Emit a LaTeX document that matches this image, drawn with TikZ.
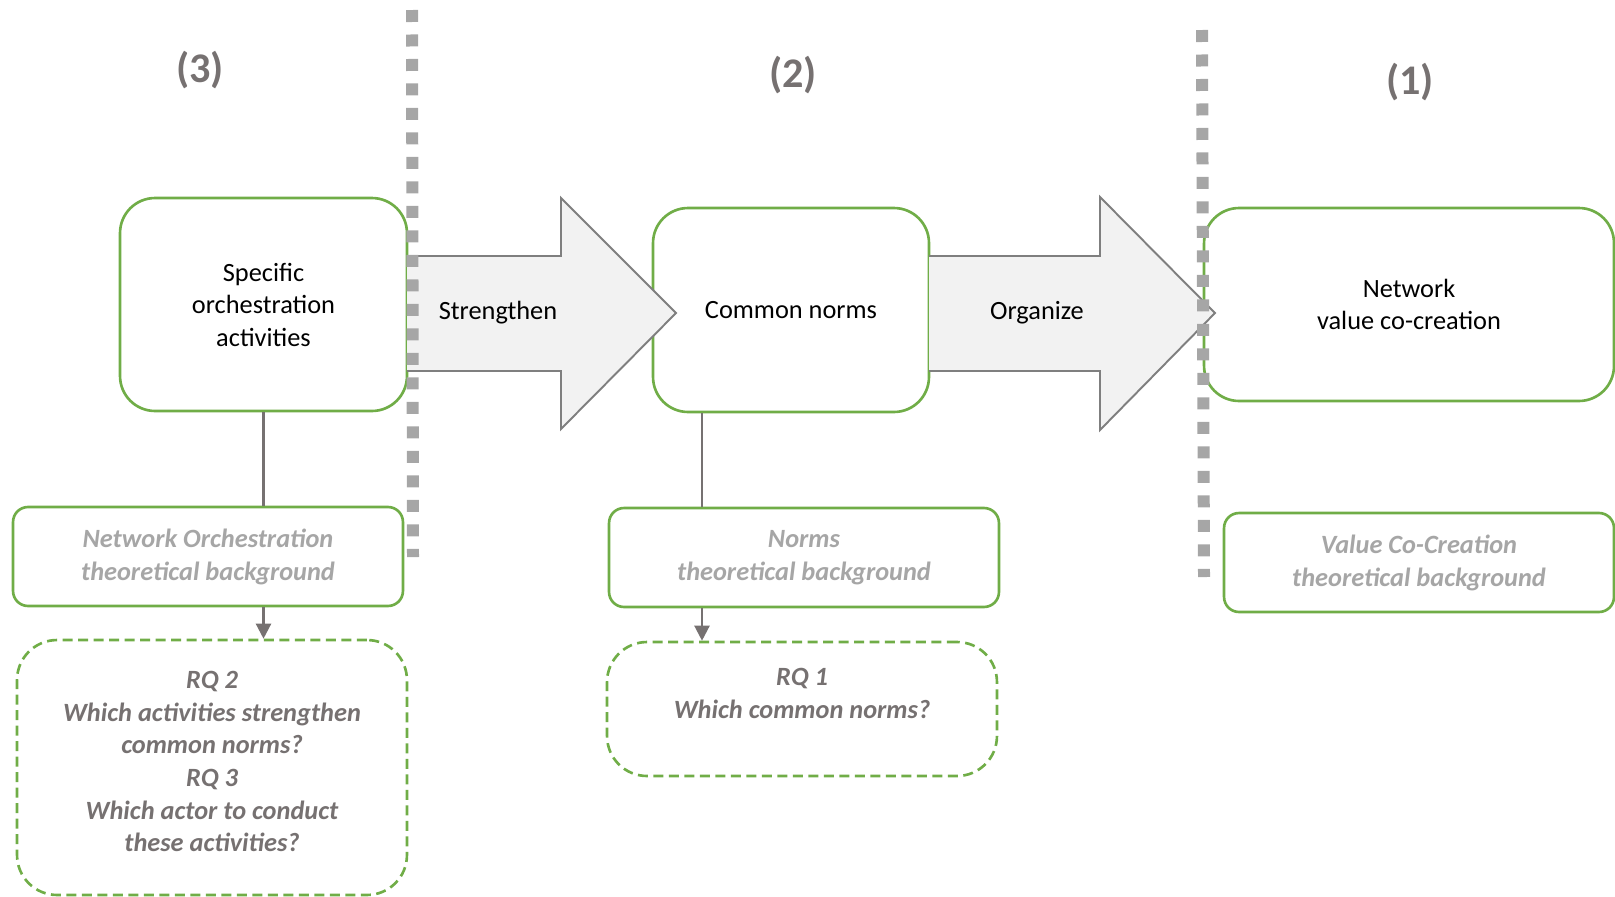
\documentclass[tikz,border=0pt]{standalone}
\usepackage{fontspec}
\setmainfont{Carlito}
\usetikzlibrary{arrows.meta,positioning,calc}
\definecolor{gr}{HTML}{70AD47}
\definecolor{tg}{HTML}{A6A6A6}
\definecolor{dg}{HTML}{767171}
\definecolor{ag}{HTML}{7F7F7F}
\definecolor{af}{HTML}{F2F2F2}

\begin{document}
\begin{tikzpicture}[x=0.02cm, y=-0.02cm,
  font=\fontsize{15}{18.5}\selectfont,
  box/.style={draw=gr, line width=1.5pt, rounded corners=0.7cm, fill=white,
              align=center, inner sep=0pt},
  thbox/.style={box, rounded corners=0.3cm, text=tg, minimum width=7.8cm,
              minimum height=1.98cm, font=\fontsize{15}{18.8}\selectfont\bfseries\itshape},
  rqbox/.style={draw=gr, line width=1.5pt, dash pattern=on 0.2cm off 0.11cm,
              rounded corners=0.8cm, minimum width=7.8cm},
  rqtxt/.style={align=center, inner sep=0pt, text=dg,
              font=\fontsize{15}{18.6}\selectfont\bfseries\itshape},
  num/.style={text=dg, font=\fontsize{24}{28}\selectfont\bfseries},
  blk/.style={fill=af, draw=ag, line width=1.1pt},
  sep/.style={draw=tg, line width=0.24cm, dash pattern=on 0.24cm off 0.25cm},
  ar/.style={draw=dg, line width=1.3pt}]
  \useasboundingbox (0,0) rectangle (1615,896);
  % main concepts
  \node[box, minimum width=5.74cm, minimum height=4.26cm] (b1) at (263.5,304.5)
       {Specific\\orchestration\\activities};
  \node[box, minimum width=5.52cm, minimum height=4.08cm] (b2) at (791,310) {Common norms};
  \node[box, minimum width=8.2cm, minimum height=3.86cm] (b3) at (1409,304.5)
       {Network\\value co-creation};
  % block arrows
  \filldraw[blk] (407,256) -- (561,256) -- (561,198) -- (676,313) -- (561,429)
       -- (561,371) -- (407,371);
  \filldraw[blk] (929,256) -- (1100,256) -- (1100,197) -- (1215,313) -- (1100,430)
       -- (1100,371) -- (929,371);
  \node (s) at (498,313) {Strengthen};
  \node (o) at (1037,313) {Organize};
  % theory
  \node[thbox] (t1) at (208,556.5) {Network Orchestration\\theoretical background};
  \node[thbox] (t2) at (804,557.5) {Norms\\theoretical background};
  \node[thbox] (t3) at (1419,562.5) {Value Co-Creation\\theoretical background};
  % research questions
  \node[rqbox, minimum height=5.1cm] (q1) at (212,767.5) {};
  \node[rqbox, minimum height=2.68cm] (q2) at (802,709) {};
  \node[rqtxt, below=0.64cm of q1.north] (rq23)
       {RQ 2\\Which activities strengthen\\common norms?\\RQ 3\\Which actor to conduct\\these activities?};
  \node[rqtxt, below=0.55cm of q2.north] (rq1) {RQ 1\\Which common norms?};
  \coordinate (k1) at (b1.south);
  \coordinate (k2) at ($(b2.south)+(-89,0)$);
  \foreach \k/\t/\q in {k1/t1/q1, k2/t2/q2} {
    \draw[ar] (\k) -- (\k |- \t.north);
    \draw[ar, -{Triangle[length=0.3cm, width=0.3cm]}] (\k |- \t.south) -- (\k |- \q.north);
  }
  % separators
  \draw[sep] (412,10) -- (413,557);
  \draw[sep] (1202,30) -- (1204,577);
  \node[num] (n3) at (200,70) {(3)};
  \node[num] (n2) at (793,75) {(2)};
  \node[num] (n1) at (1410,82) {(1)};
\end{tikzpicture}
\end{document}
